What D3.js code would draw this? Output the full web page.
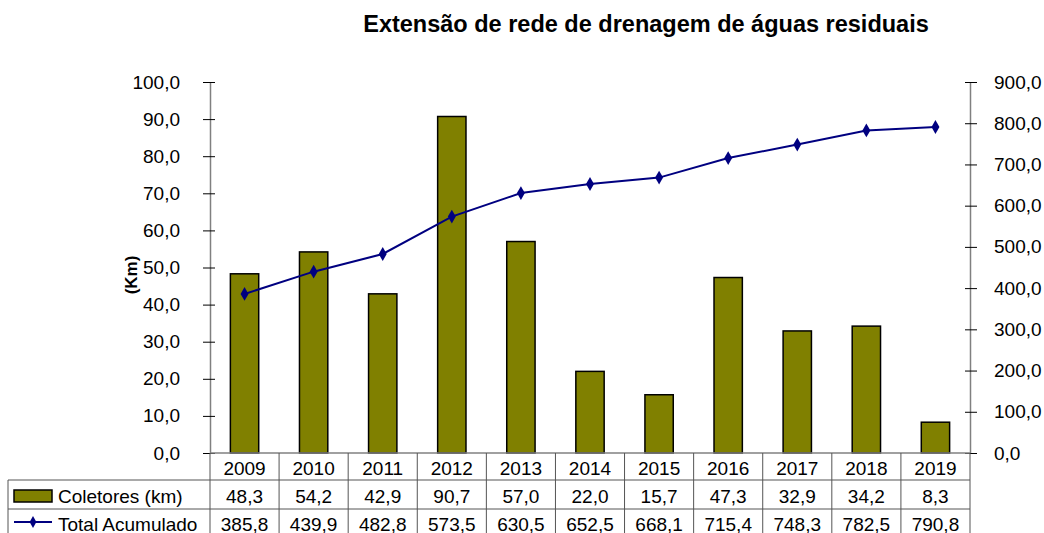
<!DOCTYPE html>
<html>
<head>
<meta charset="utf-8">
<script src="https://cdn.jsdelivr.net/npm/d3@7"></script>
<style>
  body { margin: 0; background: #fff; }
  svg text { font-family: "Liberation Sans", Arial, sans-serif; fill: #000; }
</style>
</head>
<body>
<script>
// chart data
var years = ["2009","2010","2011","2012","2013","2014","2015","2016","2017","2018","2019"];
var coletores = [48.3, 54.2, 42.9, 90.7, 57.0, 22.0, 15.7, 47.3, 32.9, 34.2, 8.3];
var acumulado = [385.8, 439.9, 482.8, 573.5, 630.5, 652.5, 668.1, 715.4, 748.3, 782.5, 790.8];
var leftTicks = [0,10,20,30,40,50,60,70,80,90,100];
var rightTicks = [0,100,200,300,400,500,600,700,800,900];

var fmt = function(v) { return v.toFixed(1).replace(".", ","); };

var W = 1044, H = 533;
var pLeft = 210, pRight = 970, pTop = 82, pBottom = 453;
var fs = "19px";

var svg = d3.select("body").append("svg").attr("width", W).attr("height", H);

// title
svg.append("text")
  .attr("x", 646).attr("y", 32)
  .attr("text-anchor", "middle")
  .style("font-size", "23.5px").style("font-weight", "bold")
  .text("Extensão de rede de drenagem de águas residuais");

var x = d3.scaleBand().domain(years).range([pLeft, pRight]).padding(0);
var yL = d3.scaleLinear().domain([0, 100]).range([pBottom, pTop]);
var yR = d3.scaleLinear().domain([0, 900]).range([pBottom, pTop]);

// bars
var bw = x.bandwidth() * 0.41;
svg.selectAll("rect.bar")
  .data(coletores)
  .enter().append("rect")
  .attr("class", "bar")
  .attr("x", function(d, i) { return x(years[i]) + x.bandwidth() / 2 - bw / 2; })
  .attr("y", function(d) { return yL(d); })
  .attr("width", bw)
  .attr("height", function(d) { return pBottom - yL(d); })
  .style("fill", "#808000").style("stroke", "#000").style("stroke-width", 1.5);

// left axis
var axL = svg.append("g").attr("transform", "translate(" + pLeft + ",0)")
  .call(d3.axisLeft(yL).tickValues(leftTicks).tickFormat(fmt).tickSizeInner(7).tickSizeOuter(0).tickPadding(23));
axL.select(".domain").style("stroke", "#808080").style("stroke-width", 1.5);
axL.selectAll(".tick line").attr("x1", -7).attr("x2", 5).style("stroke", "#000");
axL.selectAll("text").style("font-size", fs).style("font-family", "'Liberation Sans', Arial, sans-serif");

// right axis
var axR = svg.append("g").attr("transform", "translate(" + pRight + ",0)")
  .call(d3.axisRight(yR).tickValues(rightTicks).tickFormat(fmt).tickSizeInner(7).tickSizeOuter(0).tickPadding(17));
axR.select(".domain").style("stroke", "#808080").style("stroke-width", 1.5);
axR.selectAll(".tick line").attr("x1", -5).attr("x2", 7).style("stroke", "#000");
axR.selectAll("text").style("font-size", fs).style("font-family", "'Liberation Sans', Arial, sans-serif");

// y label
svg.append("text")
  .attr("transform", "translate(137,275) rotate(-90)")
  .attr("text-anchor", "middle")
  .style("font-size", "17px").style("font-weight", "bold")
  .text("(Km)");

// line
var line = d3.line()
  .x(function(d, i) { return x(years[i]) + x.bandwidth() / 2; })
  .y(function(d) { return yR(d); });
svg.append("path").datum(acumulado)
  .attr("d", line)
  .style("fill", "none").style("stroke", "#000080").style("stroke-width", 2);
svg.selectAll("path.mk")
  .data(acumulado)
  .enter().append("path")
  .attr("class", "mk")
  .attr("d", d3.symbol().type(d3.symbolDiamond).size(55))
  .attr("transform", function(d, i) {
    return "translate(" + (x(years[i]) + x.bandwidth() / 2) + "," + yR(d) + ")";
  })
  .style("fill", "#000080");

// data table
var r0 = pBottom, r1 = 480, r2 = 509, r3 = 540, tLeft = 8;
var grid = svg.append("g").style("stroke", "#555").style("stroke-width", 1);
grid.append("line").attr("x1", pLeft).attr("x2", pRight).attr("y1", r0).attr("y2", r0).style("stroke", "#808080").style("stroke-width", 1.5);
[r1, r2].forEach(function(r) {
  grid.append("line").attr("x1", tLeft).attr("x2", pRight).attr("y1", r).attr("y2", r);
});
grid.append("line").attr("x1", tLeft).attr("x2", tLeft).attr("y1", r1).attr("y2", r3);
x.domain().forEach(function(yr) {
  grid.append("line").attr("x1", x(yr)).attr("x2", x(yr)).attr("y1", r0).attr("y2", r3);
});
grid.append("line").attr("x1", pRight).attr("x2", pRight).attr("y1", r0).attr("y2", r3);

var cx = function(i) { return x(years[i]) + x.bandwidth() / 2; };
svg.selectAll("text.yr").data(years).enter().append("text")
  .attr("x", function(d, i) { return cx(i); }).attr("y", 475)
  .attr("text-anchor", "middle").style("font-size", fs).text(function(d) { return d; });
svg.selectAll("text.c").data(coletores).enter().append("text")
  .attr("x", function(d, i) { return cx(i); }).attr("y", 503)
  .attr("text-anchor", "middle").style("font-size", fs).text(fmt);
svg.selectAll("text.t").data(acumulado).enter().append("text")
  .attr("x", function(d, i) { return cx(i); }).attr("y", 531)
  .attr("text-anchor", "middle").style("font-size", fs).text(fmt);

// legend keys
svg.append("rect").attr("x", 14).attr("y", 490).attr("width", 38).attr("height", 12)
  .style("fill", "#808000").style("stroke", "#000").style("stroke-width", 1.5);
svg.append("text").attr("x", 58).attr("y", 503).style("font-size", fs).text("Coletores (km)");
svg.append("line").attr("x1", 14).attr("x2", 52).attr("y1", 522).attr("y2", 522)
  .style("stroke", "#000080").style("stroke-width", 2);
svg.append("path").attr("d", d3.symbol().type(d3.symbolDiamond).size(40))
  .attr("transform", "translate(33,522)").style("fill", "#000080");
svg.append("text").attr("x", 58).attr("y", 531).style("font-size", fs).text("Total Acumulado");
</script>
</body>
</html>
